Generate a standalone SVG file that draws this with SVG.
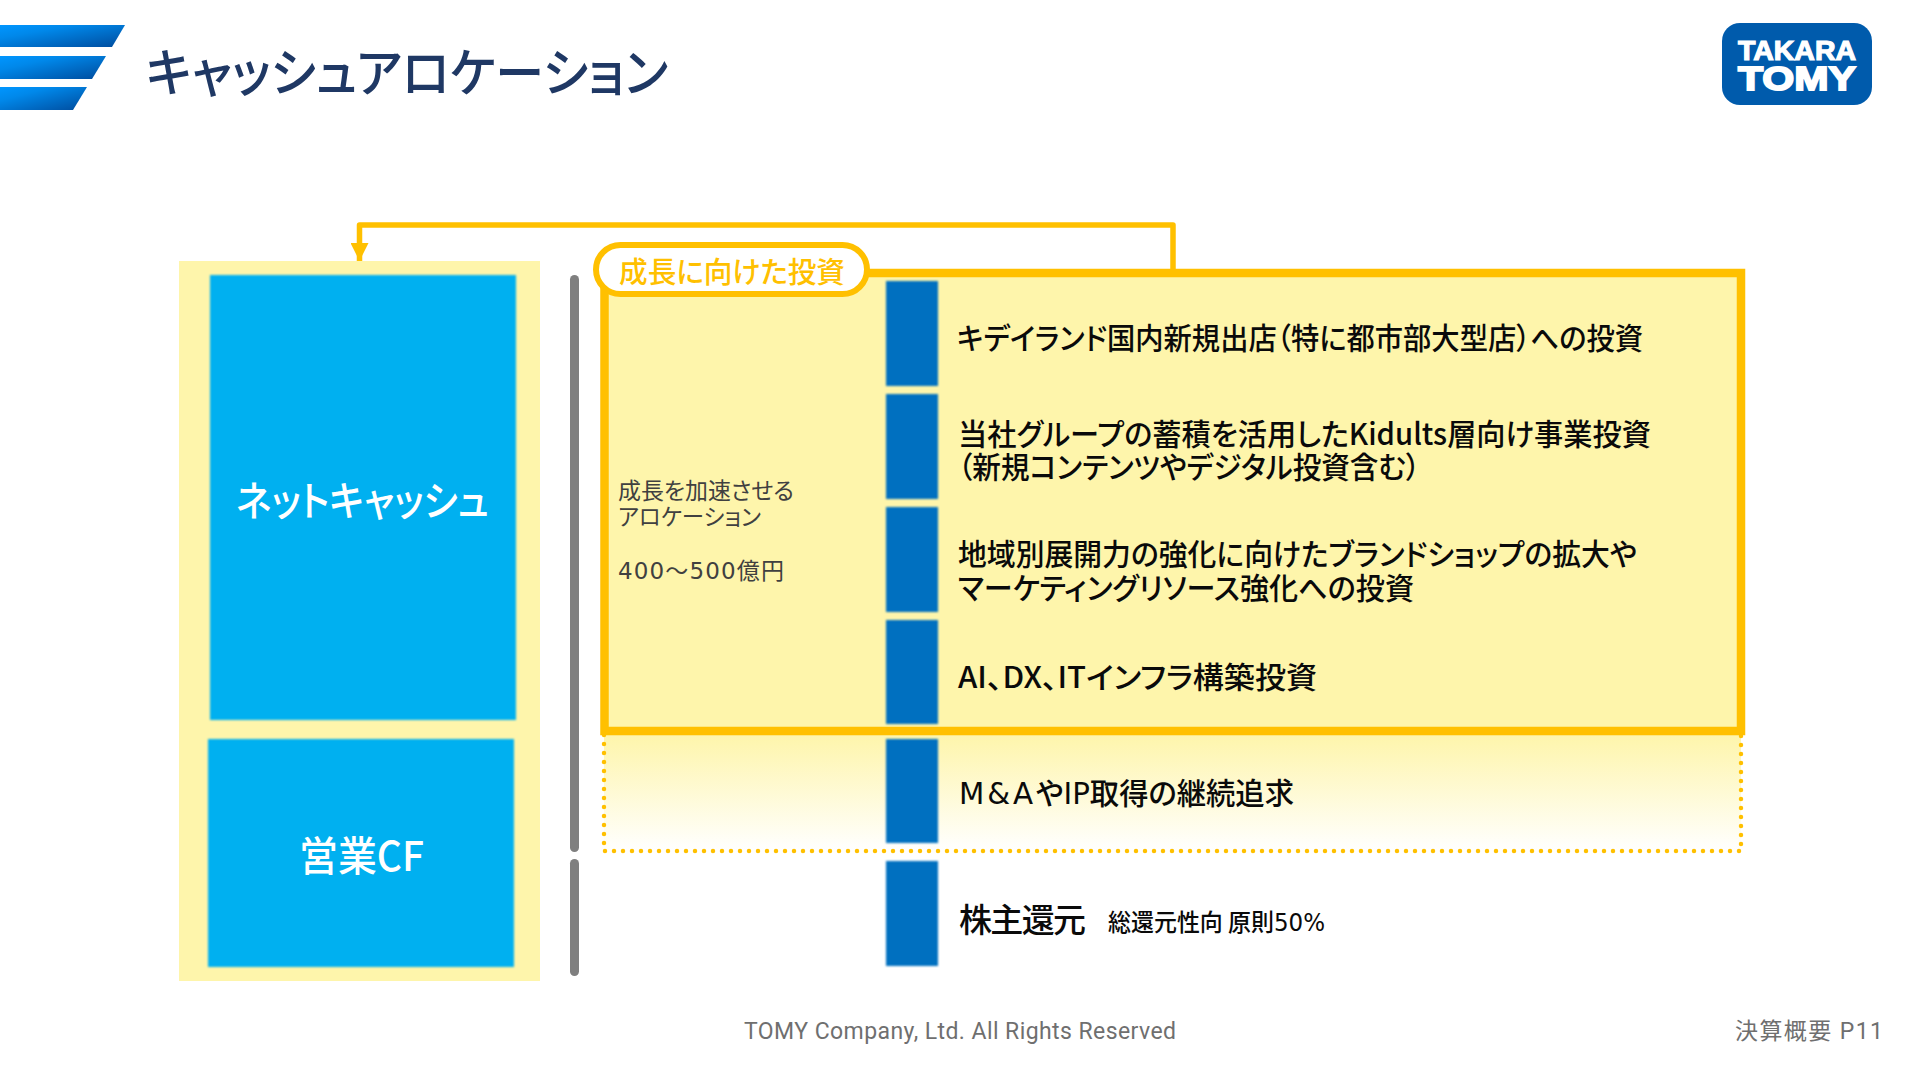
<svg xmlns="http://www.w3.org/2000/svg" width="1920" height="1080" viewBox="0 0 1920 1080">
<style>
text{font-family:"Noto Sans CJK JP","Noto Sans",sans-serif;font-feature-settings:"palt"}
.row{font-size:30px;font-weight:500;fill:#0a0a0a}
.side{font-size:23px;font-weight:400;fill:#404040}
.big{font-size:41px;font-weight:500;fill:#fff}
.bar{fill:#0070c0;filter:url(#soft)}
.cy{fill:#00b0f0;filter:url(#soft)}
.gray{fill:#7f7f7f}
.foot{font-size:23px;fill:#6f6f6f;font-family:Roboto,"Noto Sans CJK JP",sans-serif}
.wide{font-family:"DejaVu Sans","Noto Sans CJK JP",sans-serif;font-weight:400}
</style>
<defs>
<filter id="soft" x="-5%" y="-5%" width="110%" height="110%"><feGaussianBlur stdDeviation="0.8"/></filter>
<linearGradient id="hdr" x1="0" y1="0" x2="1" y2="1"><stop offset="0" stop-color="#0096ff"/><stop offset="0.3" stop-color="#0088ea"/><stop offset="1" stop-color="#004b9c"/></linearGradient>
<linearGradient id="fade" x1="0" y1="0" x2="0" y2="1"><stop offset="0" stop-color="#fef5ab"/><stop offset="1" stop-color="#fff"/></linearGradient>
<marker id="arr" markerUnits="userSpaceOnUse" markerWidth="18" markerHeight="18" refX="18" refY="9" orient="auto"><path d="M0 0L18 9L0 18Z" fill="#ffc000"/></marker>
</defs>
<g id="header">
<path d="M0 25H125L112 47H0Z" fill="url(#hdr)"/>
<path d="M0 56H106L92 79H0Z" fill="url(#hdr)"/>
<path d="M0 87H87L73 110H0Z" fill="url(#hdr)"/>
<text x="146" y="92" font-size="52" font-weight="500" fill="#1f3864" textLength="522" lengthAdjust="spacingAndGlyphs">キャッシュアロケーション</text>
</g>
<g id="logo">
<rect x="1722" y="23" width="150" height="82" rx="18" fill="#005bac"/>
<text x="1738" y="60" font-size="27" fill="#fff" stroke="#fff" stroke-width="1.2" textLength="118" lengthAdjust="spacingAndGlyphs" style="font-family:'Liberation Sans',sans-serif;font-weight:bold">TAKARA</text>
<text x="1738" y="90" font-size="34" fill="#fff" stroke="#fff" stroke-width="1.8" textLength="118" lengthAdjust="spacingAndGlyphs" style="font-family:'Liberation Sans',sans-serif;font-weight:bold">TOMY</text>
</g>
<g id="source-panel">
<rect x="179" y="261" width="361" height="720" fill="#fef5ab"/>
</g>
<g id="net-cash">
<rect class="cy" x="210" y="275" width="306" height="445"/>
<text class="big" x="236" y="516" textLength="253" lengthAdjust="spacingAndGlyphs">ネットキャッシュ</text>
</g>
<g id="op-cf">
<rect class="cy" x="208" y="739" width="306" height="228"/>
<text class="big" x="299" y="871" textLength="125" lengthAdjust="spacingAndGlyphs">営業CF</text>
</g>
<g id="dividers">
<rect class="gray" x="570" y="275" width="9" height="577" rx="4.5"/>
<rect class="gray" x="570" y="859" width="9" height="117" rx="4.5"/>
</g>
<g id="ma-zone">
<rect x="604" y="735" width="1137" height="116" fill="url(#fade)"/>
<path d="M604 735V851H1741V735" fill="none" stroke="#ffc000" stroke-width="4.5" stroke-linecap="round" stroke-dasharray="0 9"/>
</g>
<g id="growth-box">
<rect x="604.5" y="273" width="1136.5" height="458" fill="#fef5ab" stroke="#ffc000" stroke-width="8.5"/>
</g>
<g id="connectors">
<path d="M1173 270V225H359.5V261" fill="none" stroke="#ffc000" stroke-width="5.5" stroke-linejoin="round" marker-end="url(#arr)"/>
</g>
<g id="growth-label">
<rect x="596" y="245" width="271" height="49" rx="24.5" fill="#fff" stroke="#ffc000" stroke-width="6"/>
<text x="619" y="283" font-size="29" font-weight="500" fill="#ffc000" textLength="226" lengthAdjust="spacingAndGlyphs">成長に向けた投資</text>
</g>
<g id="side-note">
<text class="side" x="618" y="499" textLength="176" lengthAdjust="spacingAndGlyphs">成長を加速させる</text>
<text class="side" x="618" y="525" textLength="143" lengthAdjust="spacingAndGlyphs">アロケーション</text>
<text class="side" x="618" y="579" textLength="166" lengthAdjust="spacing"><tspan class="wide">400～500</tspan>億円</text>
</g>
<g id="item-1"><rect class="bar" x="886" y="281" width="52" height="105"/>
<text class="row" x="957" y="349" textLength="686" lengthAdjust="spacingAndGlyphs">キデイランド国内新規出店（特に都市部大型店）への投資</text></g>
<g id="item-2"><rect class="bar" x="886" y="394" width="52" height="105"/>
<text class="row" x="958" y="445" textLength="693" lengthAdjust="spacingAndGlyphs">当社グループの蓄積を活用したKidults層向け事業投資</text>
<text class="row" x="958" y="478" textLength="462" lengthAdjust="spacingAndGlyphs">（新規コンテンツやデジタル投資含む）</text></g>
<g id="item-3"><rect class="bar" x="886" y="507" width="52" height="105"/>
<text class="row" x="958" y="565" textLength="679" lengthAdjust="spacingAndGlyphs">地域別展開力の強化に向けたブランドショップの拡大や</text>
<text class="row" x="958" y="599" textLength="456" lengthAdjust="spacingAndGlyphs">マーケティングリソース強化への投資</text></g>
<g id="item-4"><rect class="bar" x="886" y="620" width="52" height="104"/>
<text class="row" x="958" y="688" textLength="359" lengthAdjust="spacingAndGlyphs">AI、DX、ITインフラ構築投資</text></g>
<g id="item-5"><rect class="bar" x="886" y="739" width="52" height="104"/>
<text class="row" x="959" y="804" textLength="335" lengthAdjust="spacingAndGlyphs"><tspan class="wide" letter-spacing="3">M&amp;A</tspan>や<tspan class="wide">IP</tspan>取得の継続追求</text></g>
<g id="item-6"><rect class="bar" x="886" y="861" width="52" height="105"/>
<text x="959" y="932" font-size="33" font-weight="500" fill="#0a0a0a" textLength="127" lengthAdjust="spacing">株主還元</text>
<text x="1108" y="931" font-size="24" font-weight="500" fill="#0a0a0a" textLength="217" lengthAdjust="spacingAndGlyphs">総還元性向 原則<tspan class="wide">50%</tspan></text></g>
<g id="footer">
<text class="foot" x="744" y="1039" textLength="432" lengthAdjust="spacing">TOMY Company, Ltd. All Rights Reserved</text>
<text class="foot" x="1735" y="1039" textLength="148" lengthAdjust="spacing">決算概要 P11</text>
</g>
</svg>
